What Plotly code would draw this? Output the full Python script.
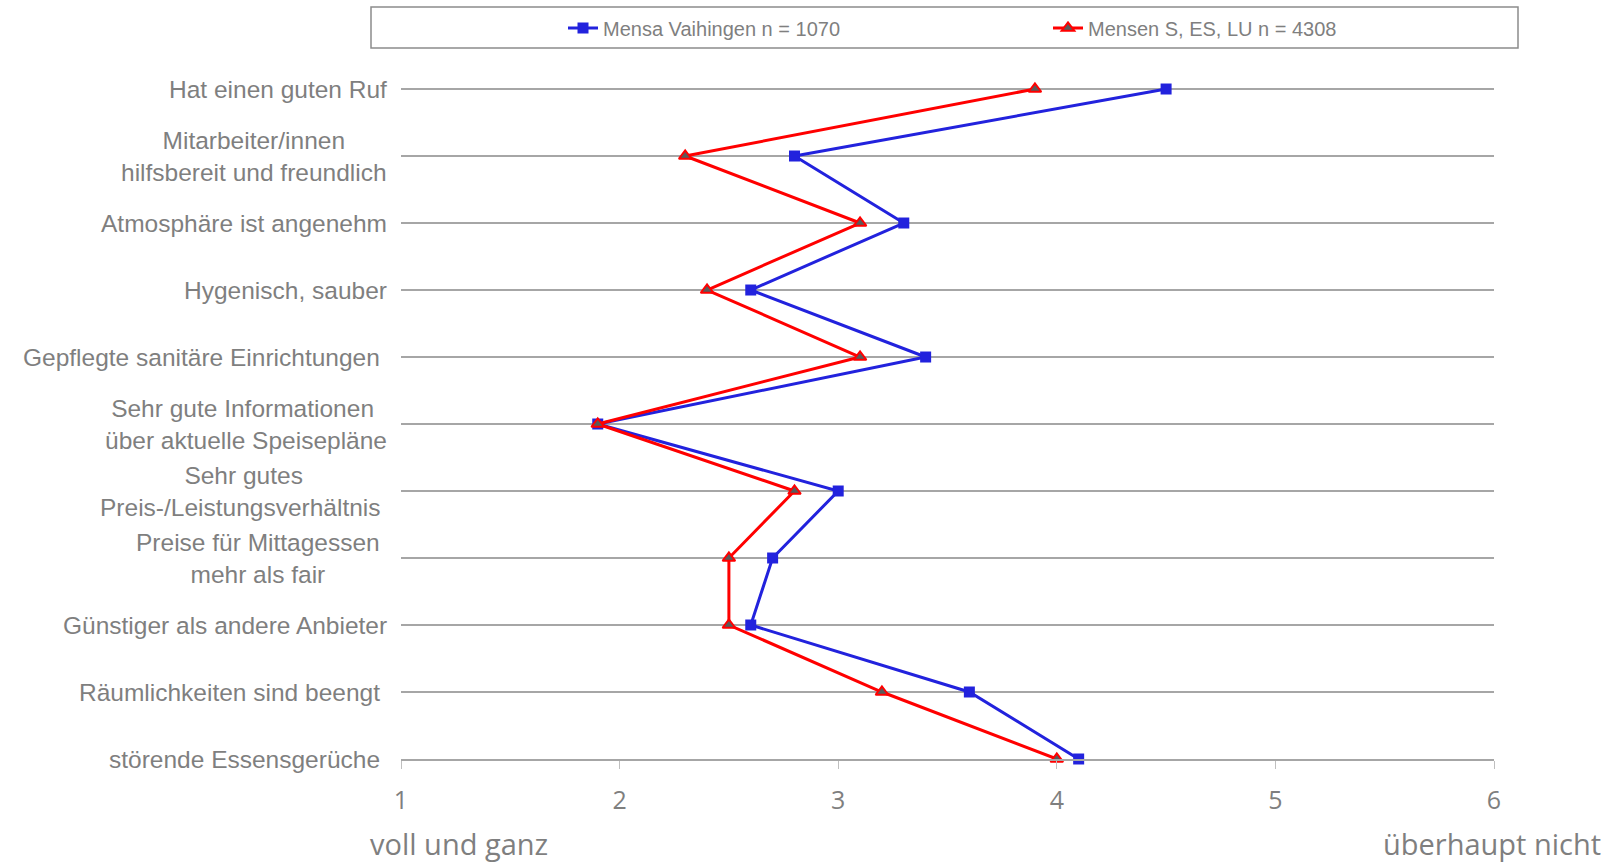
import plotly.graph_objects as go

# Survey statements (top to bottom) and mean ratings on a 1..6 scale
categories = [
    "Hat einen guten Ruf",
    "Mitarbeiter/innen<br>hilfsbereit und freundlich",
    "Atmosphäre ist angenehm",
    "Hygenisch, sauber",
    "Gepflegte sanitäre Einrichtungen\u00a0",
    "Sehr gute Informationen\u00a0<br>über aktuelle Speisepläne",
    "Sehr gutes<br>Preis-/Leistungsverhältnis\u00a0",
    "Preise für Mittagessen\u00a0<br>mehr als fair\u00a0",
    "Günstiger als andere Anbieter",
    "Räumlichkeiten sind beengt\u00a0",
    "störende Essensgerüche\u00a0",
]
vaihingen = [4.5, 2.8, 3.3, 2.6, 3.4, 1.9, 3.0, 2.7, 2.6, 3.6, 4.1]
mensen_s_es_lu = [3.9, 2.3, 3.1, 2.4, 3.1, 1.9, 2.8, 2.5, 2.5, 3.2, 4.0]
series_names = ["Mensa Vaihingen n = 1070", "Mensen S, ES, LU n = 4308"]
x_ticks = [1, 2, 3, 4, 5, 6]
scale_ends = ["voll und ganz", "überhaupt nicht"]

W, H = 1616, 864
M_L, M_R, M_T, M_B = 401, 122, 87, 105
PW, PH = W - M_L - M_R, H - M_T - M_B


def px_x(px):
    return (px - M_L) / PW


def px_y(py):
    return (H - M_B - py) / PH


GREY = "#7f7f7f"
LABEL_FONT = "Liberation Sans, Arial, sans-serif"

fig = go.Figure()
fig.add_trace(go.Scatter(
    x=vaihingen, y=categories, name=series_names[0], mode="lines+markers",
    line=dict(color="#2222dd", width=3),
    marker=dict(symbol="square", size=11, color="#2222dd"),
    cliponaxis=False,
))
fig.add_trace(go.Scatter(
    x=mensen_s_es_lu, y=categories, name=series_names[1], mode="lines+markers",
    line=dict(color="#ff0000", width=3),
    marker=dict(symbol="triangle-up", size=11, color="#5a5a5a",
                line=dict(color="#ff0000", width=2)),
    cliponaxis=False,
))

# Category labels: centred multi-line text, right-aligned against the axis
for cat in categories:
    fig.add_annotation(
        x=1, y=cat, xref="x", yref="y", text=cat, showarrow=False,
        xanchor="right", yanchor="middle", align="center", xshift=-12,
        font=dict(family=LABEL_FONT, size=24.5, color=GREY),
    )

# Scale end descriptions under the x axis
fig.add_annotation(x=px_x(368), y=px_y(843), xref="paper", yref="paper",
                   text=scale_ends[0], showarrow=False, xanchor="left",
                   yanchor="middle",
                   font=dict(family="Open Sans", size=29, color=GREY))
fig.add_annotation(x=px_x(1603), y=px_y(843), xref="paper", yref="paper",
                   text=scale_ends[1], showarrow=False, xanchor="right",
                   yanchor="middle",
                   font=dict(family="Open Sans", size=29, color=GREY))

# Legend frame
fig.add_shape(type="rect", xref="paper", yref="paper",
              x0=px_x(371), x1=px_x(1518), y0=px_y(48), y1=px_y(7),
              line=dict(color="#8c8c8c", width=1.5), fillcolor="rgba(0,0,0,0)")

fig.update_layout(
    width=W, height=H,
    margin=dict(l=M_L, r=M_R, t=M_T, b=M_B, autoexpand=False),
    paper_bgcolor="white", plot_bgcolor="white",
    showlegend=True,
    legend=dict(
        orientation="h", x=px_x(563), xanchor="left",
        y=px_y(28), yanchor="middle",
        font=dict(family=LABEL_FONT, size=20, color=GREY),
        entrywidth=440, entrywidthmode="pixels",
        bgcolor="rgba(0,0,0,0)", borderwidth=0,
    ),
    xaxis=dict(
        range=[1, 6], tickvals=x_ticks, ticktext=[str(t) for t in x_ticks],
        showgrid=False, zeroline=False,
        showline=True, linecolor="#a6a6a6", linewidth=2,
        ticks="outside", ticklen=8, tickwidth=1, tickcolor="#bfbfbf",
        ticklabelstandoff=10,
        tickfont=dict(family="Open Sans", size=25, color=GREY),
    ),
    yaxis=dict(
        type="category", categoryorder="array", categoryarray=categories,
        range=[10, -0.03], showticklabels=False, ticks="",
        showgrid=True, gridcolor="#a6a6a6", gridwidth=1.5,
        zeroline=False, showline=False,
    ),
)

fig.write_html("out.html")
